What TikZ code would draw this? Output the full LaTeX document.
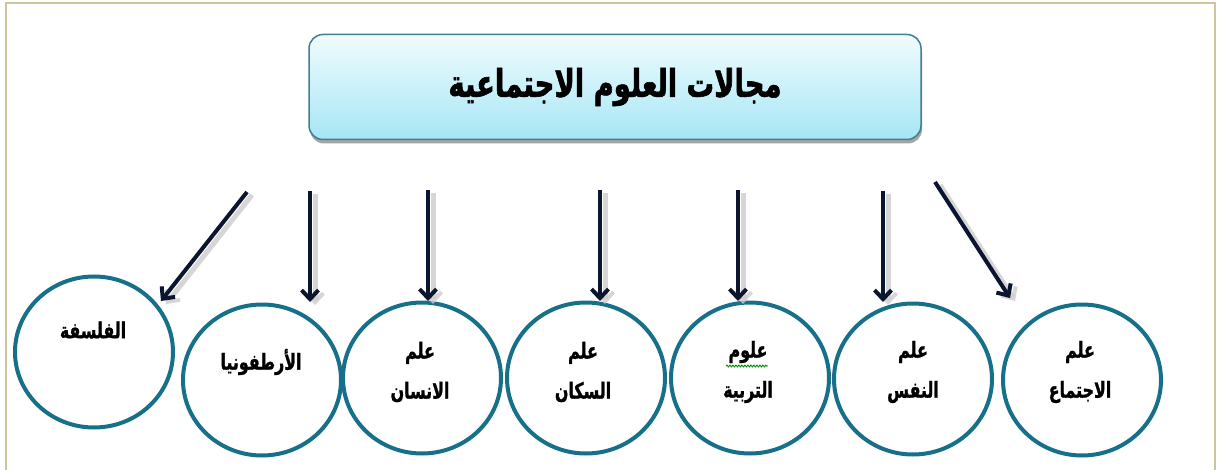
\documentclass[tikz,border=0pt]{standalone}
\usepackage{fontspec}
\newfontfamily\arabicfont[Script=Arabic,FakeStretch=0.72,FakeBold=1.2]{DejaVu Sans}
\newfontfamily\arabichead[Script=Arabic,FakeStretch=0.72,FakeBold=1.6]{DejaVu Sans}
\TeXXeTstate=1
\usetikzlibrary{shapes.geometric,arrows.meta,shadows,calc,decorations.pathmorphing}

\definecolor{frameK}{HTML}{CCC59E}
\definecolor{ringT}{HTML}{17708A}
\definecolor{boxTop}{HTML}{F0FCFE}
\definecolor{boxBot}{HTML}{A6E6F5}
\definecolor{boxEdge}{HTML}{3F7F8F}
\definecolor{arrowC}{HTML}{0B1530}

\begin{document}
\begin{tikzpicture}[x=1pt,y=-1pt,
  ring/.style={ellipse, draw=ringT, line width=4pt, minimum width=158pt,
    minimum height=151pt, inner sep=0pt},
  lbl/.style={font=\arabicfont\bfseries\fontsize{22}{40}\selectfont,
    align=center, text=black, inner sep=0pt},
  headbox/.style={rectangle, rounded corners=14pt, draw=boxEdge, line width=1.5pt,
    top color=boxTop, bottom color=boxBot, minimum width=612pt, minimum height=105pt,
    drop shadow={shadow xshift=1pt, shadow yshift=-4pt, opacity=0.5, fill=black!70},
    font=\arabichead\bfseries\fontsize{38}{44}\selectfont},
  link/.style={draw=arrowC, line width=4pt,
    -{Straight Barb[length=9pt,width=17pt,line width=4pt]}},
  linkshade/.style={draw=black!20, line width=5pt, opacity=0.8,
    -{Straight Barb[length=9pt,width=17pt,line width=4pt]}},
  ]
\useasboundingbox (0,0) rectangle (1217,470);
\fill[white] (0,0) rectangle (1217,470);

% page frame
\draw[frameK, line width=2.5pt] (6,470) -- (6,3) -- (1215,3) -- (1215,470);

% heading
\node[headbox] (top) at (615,87) {\raisebox{-7pt}{\beginR مجالات العلوم الاجتماعية\endR}};

% the seven fields
\node[ring] (c1) at (94,352)  {};
\node[ring] (c2) at (262,380) {};
\node[ring] (c3) at (422,378) {};
\node[ring] (c4) at (586,378) {};
\node[ring] (c5) at (750,378) {};
\node[ring] (c6) at (913,379) {};
\node[ring] (c7) at (1082,380) {};

\node[lbl] (t1) at ($(c1)+(-1,-22)$) {\beginR الفلسفة\endR};
\node[lbl] (t2) at ($(c2)+(-1,-18)$) {\beginR الأرطفونيا\endR};
\node[lbl] (t3) at ($(c3)+(-2,-6)$) {\beginR علم\endR\\\beginR الانسان\endR};
\node[lbl] (t4) at ($(c4)+(-3,-6)$) {\beginR علم\endR\\\beginR السكان\endR};
\node[lbl] (t5) at ($(c5)+(-2,-6)$) {\beginR علوم\endR\\\beginR التربية\endR};
\node[lbl] (t6) at ($(c6)+(0,-7)$) {\beginR علم\endR\\\beginR النفس\endR};
\node[lbl] (t7) at ($(c7)+(-2,-8)$) {\beginR علم\endR\\\beginR الاجتماع\endR};

% spell-check squiggle under the first word of t5
\draw[green!55!black, line width=0.9pt, decorate,
  decoration={snake, amplitude=0.9pt, segment length=3pt}]
  ($(t5)+(-22,-6)$) -- ($(t5)+(20,-6)$);

% arrow ends
\coordinate (s1) at (247,192);  \coordinate (e1) at (161,301);
\coordinate (s2) at (310,191);  \coordinate (e2) at (310,302);
\coordinate (s3) at (428,190);  \coordinate (e3) at (428,301);
\coordinate (s4) at (600,190);  \coordinate (e4) at (600,301);
\coordinate (s5) at (738,190);  \coordinate (e5) at (738,301);
\coordinate (s6) at (883,191);  \coordinate (e6) at (883,302);
\coordinate (s7) at (935,182);  \coordinate (e7) at (1010,298);

\foreach \i in {1,...,7}{
  \draw[linkshade] ([shift={(5,3)}]s\i) -- ([shift={(5,3)}]e\i);
}
\foreach \i in {1,...,7}{
  \draw[link] (s\i) -- (e\i);
}
\end{tikzpicture}
\end{document}
